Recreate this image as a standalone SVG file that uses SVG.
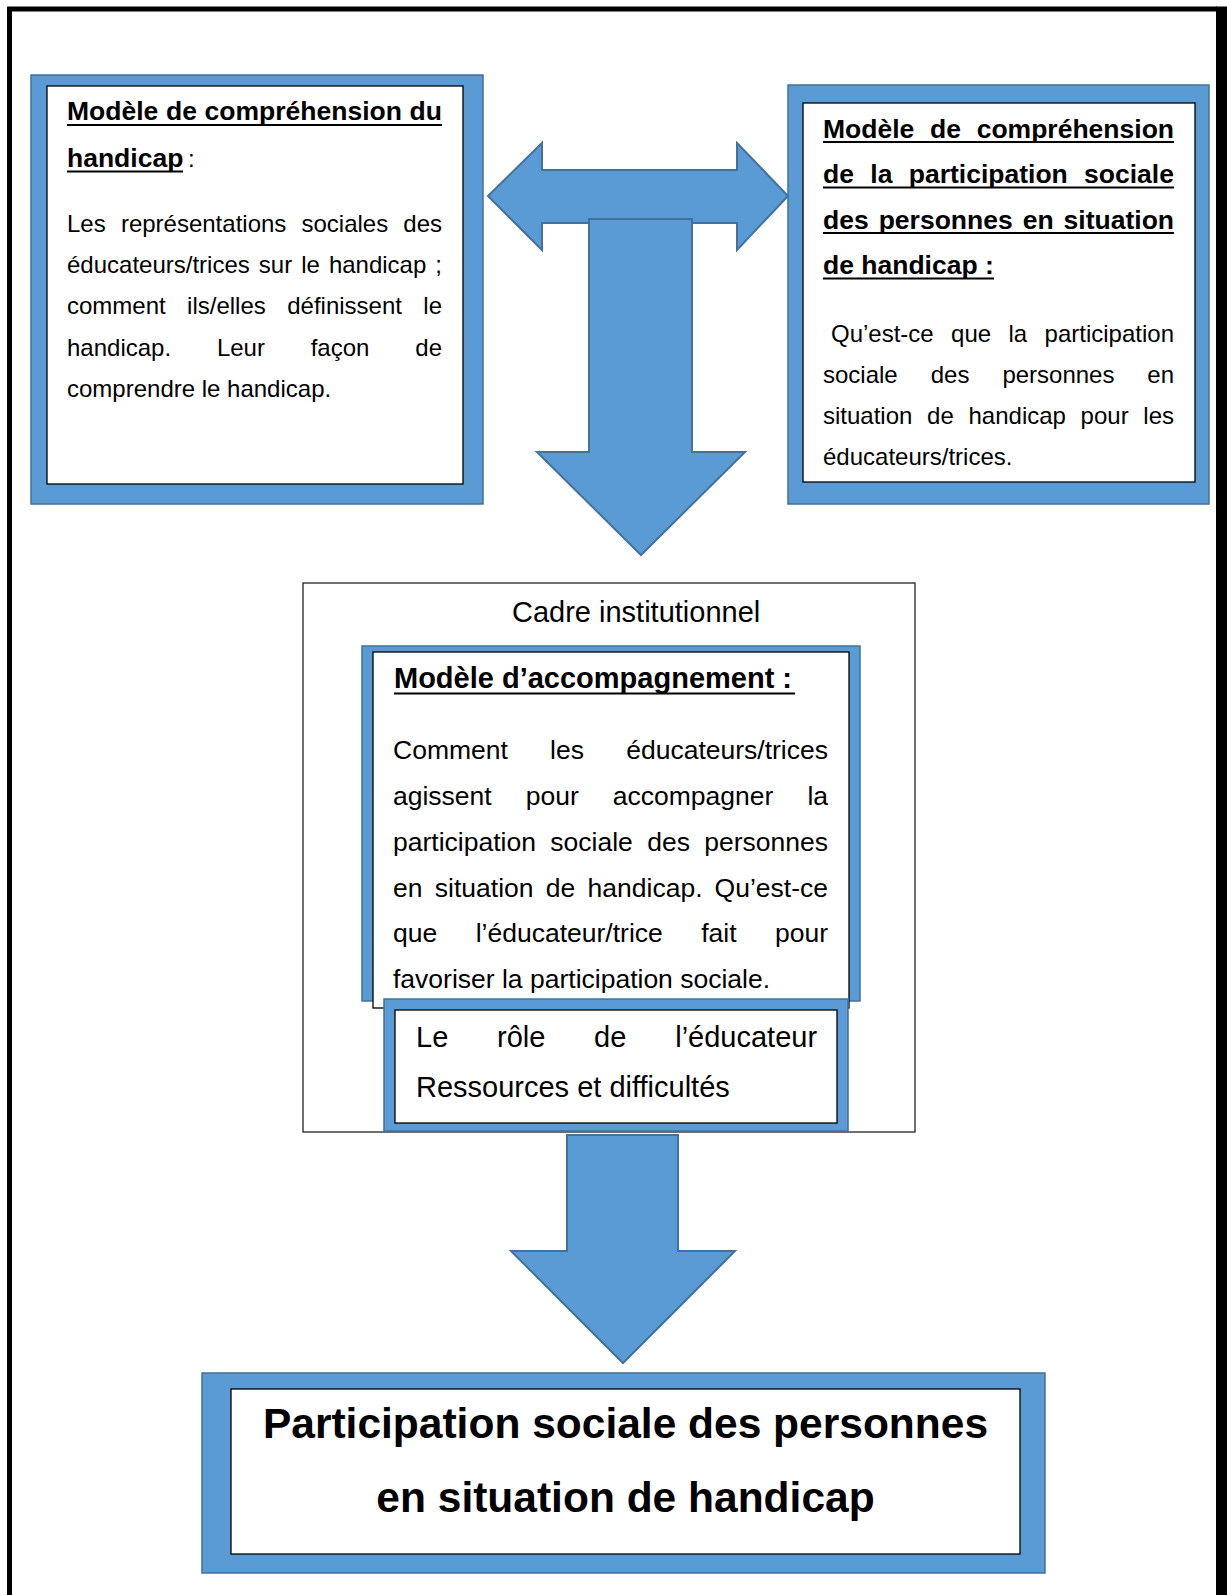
<svg xmlns="http://www.w3.org/2000/svg" width="1227" height="1595" viewBox="0 0 1227 1595">
<style>
.t{font-family:"Liberation Sans",Arial,sans-serif;fill:#000}
.r24{font-size:24px}
.b26{font-size:26.5px;font-weight:bold}
.r265{font-size:26.5px}
.r29{font-size:29px}
.b29{font-size:29px;font-weight:bold}
.b42{font-size:42.5px;font-weight:bold}
.blue{fill:#5B9BD5;stroke:#41719C;stroke-width:1.5}
.inner{fill:#fff;stroke:#000;stroke-width:1.3}
.ul{stroke:#000;stroke-width:2.2}
.arrow{fill:#5B9BD5;stroke:#41719C;stroke-width:2;stroke-linejoin:miter}
</style>
<rect width="1227" height="1595" fill="#fff"/>
<g id="page-frame">
<path d="M9.5,1595 V9 H1217" fill="none" stroke="#000" stroke-width="5"/>
<rect x="1216" y="6.5" width="11" height="1588.5" fill="#000"/>
</g>
<g id="connectors">
<polygon class="arrow" points="488,196 542,143 542,170 737,170 737,143 788,196 737,250 737,223 542,223 542,250"/>
<polygon class="arrow" points="589,219 692,219 692,452 745,452 641,555 537,452 589,452"/>
<polygon class="arrow" points="567,1135 678,1135 678,1251 735,1251 623,1363 511,1251 567,1251"/>
</g>
<g id="node-handicap">
<rect class="blue" x="31" y="75" width="452" height="429"/>
<rect class="inner" x="47" y="86" width="416" height="398"/>
<text class="t b26" y="120"><tspan x="67">Modèle</tspan><tspan x="166">de</tspan><tspan x="204.6">compréhension</tspan><tspan x="409.6">du</tspan></text>
<line class="ul" x1="67" y1="125" x2="442" y2="125"/>
<text class="t" y="167"><tspan class="b26" x="67">handicap</tspan><tspan class="r24" x="188">:</tspan></text>
<line class="ul" x1="67" y1="171.5" x2="183" y2="171.5"/>
<text class="t r24" y="232"><tspan x="67">Les</tspan><tspan x="120.9">représentations</tspan><tspan x="301.5">sociales</tspan><tspan x="403.3">des</tspan></text>
<text class="t r24" y="273"><tspan x="67">éducateurs/trices</tspan><tspan x="258.8">sur</tspan><tspan x="301.2">le</tspan><tspan x="328.9">handicap</tspan><tspan x="435.3">;</tspan></text>
<text class="t r24" y="314"><tspan x="67">comment</tspan><tspan x="187.1">ils/elles</tspan><tspan x="287.2">définissent</tspan><tspan x="423.3">le</tspan></text>
<text class="t r24" y="356"><tspan x="67">handicap.</tspan><tspan x="216.9">Leur</tspan><tspan x="310.7">façon</tspan><tspan x="415.3">de</tspan></text>
<text class="t r24" x="67" y="397">comprendre le handicap.</text>
</g>
<g id="node-participation">
<rect class="blue" x="788" y="85" width="421" height="419"/>
<rect class="inner" x="803" y="103" width="392" height="379"/>
<text class="t b26" y="137.5"><tspan x="823">Modèle</tspan><tspan x="930">de</tspan><tspan x="976.7">compréhension</tspan></text>
<line class="ul" x1="823" y1="142" x2="1174" y2="142"/>
<text class="t b26" y="183"><tspan x="823">de</tspan><tspan x="870.3">la</tspan><tspan x="908.8">participation</tspan><tspan x="1084.1">sociale</tspan></text>
<line class="ul" x1="823" y1="187.5" x2="1174" y2="187.5"/>
<text class="t b26" y="228.5"><tspan x="823">des</tspan><tspan x="878.7">personnes</tspan><tspan x="1022.7">en</tspan><tspan x="1063.6">situation</tspan></text>
<line class="ul" x1="823" y1="233" x2="1174" y2="233"/>
<text class="t b26" x="823" y="274">de handicap :</text>
<line class="ul" x1="823" y1="278.5" x2="994" y2="278.5"/>
<text class="t r24" y="342"><tspan x="831">Qu’est-ce</tspan><tspan x="951.1">que</tspan><tspan x="1008.5">la</tspan><tspan x="1044.6">participation</tspan></text>
<text class="t r24" y="383"><tspan x="823">sociale</tspan><tspan x="930.7">des</tspan><tspan x="1002.4">personnes</tspan><tspan x="1147.3">en</tspan></text>
<text class="t r24" y="423.5"><tspan x="823">situation</tspan><tspan x="927.1">de</tspan><tspan x="968.5">handicap</tspan><tspan x="1080.6">pour</tspan><tspan x="1143.3">les</tspan></text>
<text class="t r24" x="823" y="465">éducateurs/trices.</text>
</g>
<g id="node-cadre">
<rect x="303" y="583" width="612" height="549" fill="#fff" stroke="#222" stroke-width="1.3"/>
<text class="t r29" x="512" y="622">Cadre institutionnel</text>
</g>
<g id="node-accompagnement">
<rect class="blue" x="362" y="646" width="498" height="355"/>
<rect class="inner" x="373" y="652" width="476" height="356"/>
<text class="t b29" x="394" y="688">Modèle d’accompagnement :</text>
<line class="ul" x1="394" y1="693.5" x2="795" y2="693.5"/>
<text class="t r265" y="759"><tspan x="393">Comment</tspan><tspan x="550.1">les</tspan><tspan x="626.2">éducateurs/trices</tspan></text>
<text class="t r265" y="805"><tspan x="393">agissent</tspan><tspan x="525.7">pour</tspan><tspan x="612.7">accompagner</tspan><tspan x="807.4">la</tspan></text>
<text class="t r265" y="851"><tspan x="393">participation</tspan><tspan x="550.3">sociale</tspan><tspan x="647.2">des</tspan><tspan x="704.3">personnes</tspan></text>
<text class="t r265" y="897"><tspan x="393">en</tspan><tspan x="434.8">situation</tspan><tspan x="545.8">de</tspan><tspan x="587.6">handicap.</tspan><tspan x="714.6">Qu’est-ce</tspan></text>
<text class="t r265" y="942"><tspan x="393">que</tspan><tspan x="475.7">l’éducateur/trice</tspan><tspan x="701.2">fait</tspan><tspan x="775">pour</tspan></text>
<text class="t r265" x="393" y="988">favoriser la participation sociale.</text>
</g>
<g id="node-role">
<rect class="blue" x="384" y="999" width="464" height="132"/>
<rect class="inner" x="395" y="1010" width="442" height="113"/>
<text class="t r29" y="1047"><tspan x="416">Le</tspan><tspan x="497">rôle</tspan><tspan x="594.1">de</tspan><tspan x="675.2">l’éducateur</tspan></text>
<text class="t r29" x="416" y="1097">Ressources et difficultés</text>
</g>
<g id="node-result">
<rect class="blue" x="202" y="1373" width="843" height="200"/>
<rect class="inner" x="231" y="1389" width="789" height="165"/>
<text class="t b42" x="625.5" y="1438" text-anchor="middle">Participation sociale des personnes</text>
<text class="t b42" x="625.5" y="1512" text-anchor="middle">en situation de handicap</text>
</g>
</svg>
